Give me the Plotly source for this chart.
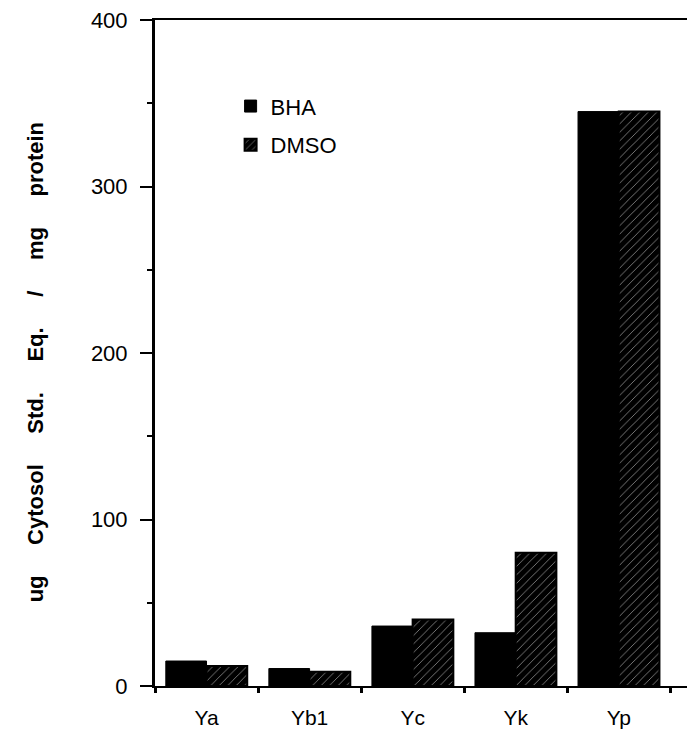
import plotly.graph_objects as go

categories = ["Ya", "Yb1", "Yc", "Yk", "Yp"]
bha = [15, 10.5, 36, 32, 345]
dmso = [12, 8.5, 40, 80, 345]
y_tick_step = 100
y_minor_step = 50
y_max = 400

gap = "\u00a0" * 5
y_title = gap.join(["ug", "Cytosol", "Std.", "Eq.", "/", "mg", "protein"]) + "\u00a0" * 3

fig = go.Figure()
fig.add_bar(
    name="BHA", x=categories, y=bha, legendgroup="a",
    marker=dict(color="black", line=dict(color="black", width=1)),
)
fig.add_bar(
    name="DMSO", x=categories, y=dmso, legendgroup="b",
    marker=dict(
        color="black", line=dict(color="black", width=2),
        pattern=dict(shape="/", bgcolor="black", fgcolor="white", size=6, solidity=0.15),
    ),
)

# page body has an 8px margin; size the figure so it fills the 695x734 window
fig.update_layout(
    barmode="group", bargap=0.21, bargroupgap=0,
    width=687, height=726,
    margin=dict(l=147, r=0, t=12, b=48),
    plot_bgcolor="white", paper_bgcolor="white",
    font=dict(family="Liberation Sans, Arial, sans-serif", color="black", size=21),
    legend=dict(
        x=0.14, y=0.902, xanchor="left", yanchor="top",
        font=dict(size=22), tracegroupgap=7, bgcolor="rgba(0,0,0,0)",
    ),
)
fig.update_xaxes(
    range=[-0.5, 4.74], showline=True, linecolor="black", linewidth=2, mirror=True,
    ticks="outside", tickson="boundaries", ticklen=5, tickwidth=3, tickcolor="black",
    showgrid=False, tickfont=dict(size=21), ticklabelstandoff=12,
)
fig.update_yaxes(
    range=[0, y_max], tick0=0, dtick=y_tick_step,
    showline=True, linecolor="black", linewidth=3,
    ticks="outside", ticklen=12, tickwidth=2, tickcolor="black",
    minor=dict(dtick=y_minor_step, ticks="outside", ticklen=5, tickwidth=2, tickcolor="black"),
    showgrid=False, zeroline=False, tickfont=dict(size=22), ticklabelstandoff=8,
    ticklabeloverflow="allow",
    title=dict(text="<b>" + y_title + "</b>", font=dict(size=22), standoff=42),
)

fig.write_html("out.html")
